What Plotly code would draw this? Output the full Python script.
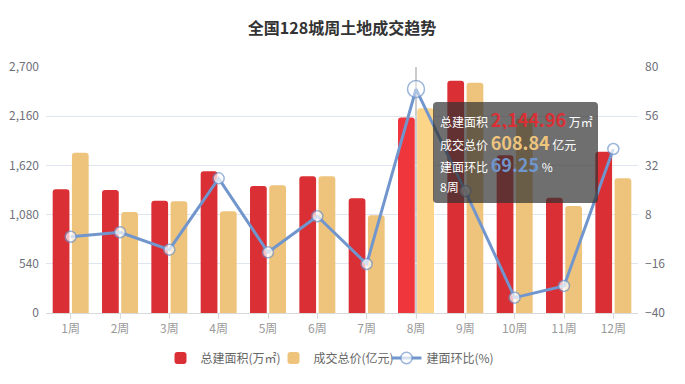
import plotly.graph_objects as go

weeks = ["1周", "2周", "3周", "4周", "5周", "6周", "7周", "8周", "9周", "10周", "11周", "12周"]
area = [1358, 1350, 1233, 1555, 1394, 1500, 1259, 2144.96, 2550, 1731, 1266, 1770]
price = [1759, 1108, 1226, 1116, 1401, 1500, 1072, 2247, 2528, 2137, 1174, 1478]
ratio = [-2.8, -0.6, -9.1, 25.7, -10.4, 7.2, -16.1, 69.25, 19.5, -32.5, -26.8, 40.0]
left_ticks = [0, 540, 1080, 1620, 2160, 2700]
right_ticks = [-40, -16, 8, 32, 56, 80]
hover_idx = 7
tip_area = "2,144.96"
tip_price = "608.84"
tip_ratio = "69.25"

RED, RED_HI = "#DA2F35", "#EF363C"
GOLD, GOLD_HI = "#EEC47C", "#FDD588"
BLUE = "#7196CD"
FONT = "Noto Sans CJK SC"

W, H = 685, 384
L, R, T, B = 46, 47, 67, 71
pw, ph = W - L - R, H - T - B

def px(x):
    return (x - L) / pw

def py(y):
    return (H - B - y) / ph

fig = go.Figure()
fig.add_trace(go.Bar(
    x=weeks, y=area, name="总建面积(万㎡)",
    marker=dict(color=[RED_HI if i == hover_idx else RED for i in range(len(weeks))], line_width=0),
    hoverinfo="skip",
))
fig.add_trace(go.Bar(
    x=weeks, y=price, name="成交总价(亿元)",
    marker=dict(color=[GOLD_HI if i == hover_idx else GOLD for i in range(len(weeks))], line_width=0),
    hoverinfo="skip",
))
fig.add_trace(go.Scatter(
    x=weeks, y=ratio, name="建面环比(%)", yaxis="y2", mode="lines+markers",
    line=dict(color=BLUE, width=3),
    marker=dict(size=[17 if i == hover_idx else 11 for i in range(len(weeks))],
                color=["rgba(255,255,255,0.6)" if i == hover_idx else "white" for i in range(len(weeks))],
                line=dict(color=BLUE, width=1.5)),
    hoverinfo="skip",
))

fig.update_layout(
    width=W, height=H, autosize=False,
    margin=dict(l=L, r=R, t=T, b=B, autoexpand=False),
    paper_bgcolor="white", plot_bgcolor="white",
    font=dict(family=FONT, size=12, color="#6E7079"),
    title=dict(text="<b>全国128城周土地成交趋势</b>", x=0.5, xanchor="center", xref="paper",
               y=1 - 28 / H, yanchor="middle", font=dict(size=16, color="#333333", family=FONT)),
    barmode="group", bargap=0.22, bargroupgap=0.13, barcornerradius=3,
    showlegend=True,
    legend=dict(orientation="h", x=(330 - L) / pw, xanchor="center", y=py(358), yanchor="middle",
                font=dict(size=12, color="#666666", family=FONT), itemwidth=30,
                entrywidth=68, traceorder="normal"),
    xaxis=dict(type="category", range=[-0.5, len(weeks) - 0.5], showgrid=False, showline=True,
               linecolor="#D9D9D9", ticks="outside", ticklen=5, tickcolor="#D9D9D9", automargin=False,
               tickfont=dict(size=12, color="#9A9A9A"), fixedrange=True),
    yaxis=dict(range=[0, 2700], tickvals=left_ticks, tickformat=",", showgrid=True,
               gridcolor="#E0E6F1", zeroline=False, showline=False, automargin=False,
               tickfont=dict(size=12, color="#6E7079"), ticks="", ticklabelstandoff=6),
    yaxis2=dict(range=[-40, 80], tickvals=right_ticks, overlaying="y", side="right",
                showgrid=False, zeroline=False, showline=False, automargin=False,
                tickfont=dict(size=12, color="#6E7079"), ticklabelstandoff=6),
)

# axis pointer line at hovered category
fig.add_shape(type="line", xref="x", yref="paper", x0=weeks[hover_idx], x1=weeks[hover_idx],
              y0=0, y1=1, line=dict(color="#999999", width=1), layer="below")

# tooltip box (rounded)
x0, x1, y0, y1, r = 433, 598, 102, 203, 4
path = (f"M {px(x0+r)},{py(y0)} L {px(x1-r)},{py(y0)} Q {px(x1)},{py(y0)} {px(x1)},{py(y0+r)} "
        f"L {px(x1)},{py(y1-r)} Q {px(x1)},{py(y1)} {px(x1-r)},{py(y1)} "
        f"L {px(x0+r)},{py(y1)} Q {px(x0)},{py(y1)} {px(x0)},{py(y1-r)} "
        f"L {px(x0)},{py(y0+r)} Q {px(x0)},{py(y0)} {px(x0+r)},{py(y0)} Z")
fig.add_shape(type="path", xref="paper", yref="paper", path=path,
              fillcolor="rgba(50,50,50,0.7)", line=dict(width=0), layer="above")

lines = [
    (119, f"总建面积 <span style='font-size:18px;color:{RED}'><b>{tip_area}</b></span> 万㎡"),
    (142, f"成交总价 <span style='font-size:18px;color:{GOLD}'><b>{tip_price}</b></span> 亿元"),
    (164, f"建面环比 <span style='font-size:18px;color:{BLUE}'><b>{tip_ratio}</b></span> %"),
    (186, weeks[hover_idx]),
]
for yy, txt in lines:
    fig.add_annotation(xref="paper", yref="paper", x=px(439), y=py(yy), xanchor="left",
                       yanchor="middle", text=txt, showarrow=False, height=20, borderpad=0,
                       font=dict(size=12, color="white", family=FONT))

fig.write_html("out.html", config={"responsive": False, "displayModeBar": False},
               post_script="document.body.style.margin='0';document.body.style.overflow='hidden';")
